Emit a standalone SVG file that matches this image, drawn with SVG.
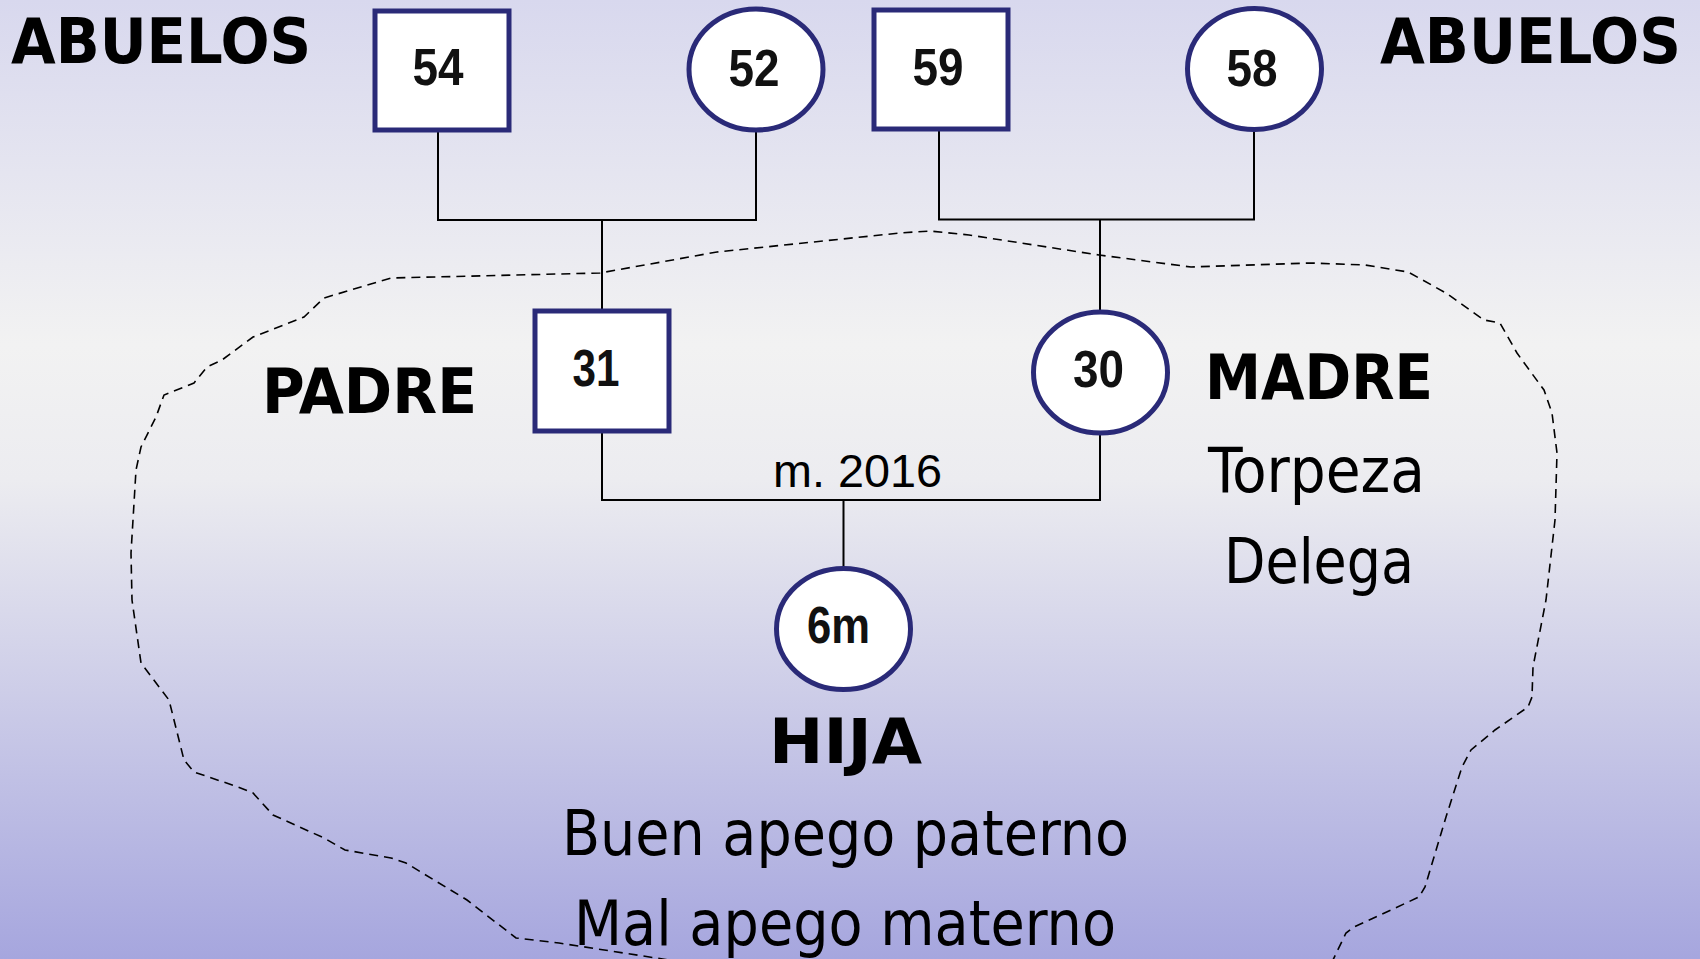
<svg xmlns="http://www.w3.org/2000/svg" width="1700" height="959" viewBox="0 0 1700 959">
<defs>
<linearGradient id="bg" x1="0" y1="0" x2="0" y2="1">
<stop offset="0" stop-color="#d8d8ee"/>
<stop offset="0.36" stop-color="#f2f2f2"/>
<stop offset="0.5" stop-color="#ececf0"/>
<stop offset="1" stop-color="#a6a6de"/>
</linearGradient>
<style>
.node{fill:#ffffff;stroke:#2a2a78;stroke-width:5}
.num{font-family:"Liberation Sans",Arial,sans-serif;font-weight:bold;font-size:52px;fill:#111;text-anchor:middle}
.lbl{font-family:"DejaVu Sans Condensed","DejaVu Sans",sans-serif;font-weight:bold;font-size:63px;fill:#000}
.txt{font-family:"DejaVu Sans Condensed","DejaVu Sans",sans-serif;font-size:63px;fill:#000}
.con{fill:none;stroke:#000;stroke-width:2}
.bound{fill:none;stroke:#000;stroke-width:1.6;stroke-dasharray:9 6}
</style>
</defs>
<rect x="0" y="0" width="1700" height="959" fill="url(#bg)"/>

<g id="boundary">
<path class="bound" d="M682,962 L559,943 L516,938 L467,900 L406,863 L391,858 L345,850 L324,838 L273,815 L253,793 L238,787 L194,772 L184,760 L169,700 L141,663 L132,600 L131,553 L136,470 L141,447 L156,417 L164,395 L194,383 L207,367 L222,360 L253,337 L304,317 L324,298 L391,278 L600,273 L717,252 L900,233 L930,231 L969,235 L1099,255 L1191,267 L1311,263 L1365,265 L1408,272 L1446,293 L1484,320 L1500,323 L1517,353 L1522,360 L1544,390 L1552,413 L1557,453 L1555,520 L1546,600 L1533,667 L1532,697 L1528,707 L1495,730 L1471,750 L1462,767 L1446,817 L1425,887 L1419,897 L1354,927 L1346,933 L1332,962"/>
</g>

<g id="connectors">
<polyline class="con" points="438,132 438,220 756,220 756,131"/>
<line class="con" x1="602" y1="220" x2="602" y2="311"/>
<polyline class="con" points="939,131 939,219.5 1254,219.5 1254,131"/>
<line class="con" x1="1100" y1="219.5" x2="1100" y2="311"/>
<polyline class="con" points="602,433 602,500 1100,500 1100,434"/>
<line class="con" x1="843.5" y1="500" x2="843.5" y2="568"/>
</g>

<g id="label-abuelos-left"><text class="lbl" x="11" y="63" textLength="300" lengthAdjust="spacingAndGlyphs">ABUELOS</text></g>
<g id="label-abuelos-right"><text class="lbl" x="1380" y="63" textLength="301" lengthAdjust="spacingAndGlyphs">ABUELOS</text></g>

<g id="node-54">
<rect class="node" x="375" y="11" width="134" height="119"/>
<text class="num" x="438" y="85" textLength="51" lengthAdjust="spacingAndGlyphs">54</text>
</g>
<g id="node-52">
<ellipse class="node" cx="756" cy="69.5" rx="67" ry="60.5"/>
<text class="num" x="754" y="86" textLength="51" lengthAdjust="spacingAndGlyphs">52</text>
</g>
<g id="node-59">
<rect class="node" x="874" y="10" width="134" height="119"/>
<text class="num" x="938" y="85" textLength="51" lengthAdjust="spacingAndGlyphs">59</text>
</g>
<g id="node-58">
<ellipse class="node" cx="1254.5" cy="69" rx="67" ry="60.5"/>
<text class="num" x="1252" y="86" textLength="51" lengthAdjust="spacingAndGlyphs">58</text>
</g>

<g id="node-31">
<rect class="node" x="535" y="311" width="134" height="120"/>
<text class="num" x="596" y="386" textLength="47" lengthAdjust="spacingAndGlyphs">31</text>
</g>
<g id="label-padre"><text class="lbl" x="262" y="413" textLength="215" lengthAdjust="spacingAndGlyphs">PADRE</text></g>

<g id="node-30">
<ellipse class="node" cx="1100.5" cy="372.5" rx="67" ry="60.5"/>
<text class="num" x="1098.5" y="387" textLength="51" lengthAdjust="spacingAndGlyphs">30</text>
</g>
<g id="label-madre">
<text class="lbl" x="1205" y="399" textLength="228" lengthAdjust="spacingAndGlyphs">MADRE</text>
<text class="txt" x="1208" y="492" textLength="217" lengthAdjust="spacingAndGlyphs">Torpeza</text>
<text class="txt" x="1224" y="583" textLength="190" lengthAdjust="spacingAndGlyphs">Delega</text>
</g>

<g id="label-marriage"><text x="773" y="487" font-family="Liberation Sans, Arial, sans-serif" font-size="46" fill="#000" textLength="169" lengthAdjust="spacingAndGlyphs">m. 2016</text></g>

<g id="node-6m">
<ellipse class="node" cx="843.5" cy="629" rx="67" ry="60.5"/>
<text class="num" x="838.5" y="643" textLength="63" lengthAdjust="spacingAndGlyphs">6m</text>
</g>
<g id="label-hija">
<text class="lbl" x="769" y="763" textLength="153" lengthAdjust="spacingAndGlyphs">HIJA</text>
<text class="txt" x="562" y="855" textLength="567" lengthAdjust="spacingAndGlyphs">Buen apego paterno</text>
<text class="txt" x="574" y="945" textLength="542" lengthAdjust="spacingAndGlyphs">Mal apego materno</text>
</g>
</svg>
